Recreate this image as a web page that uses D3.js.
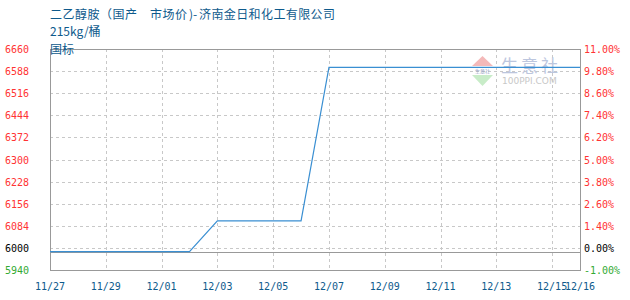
<!DOCTYPE html>
<html>
<head>
<meta charset="utf-8">
<script src="https://cdn.jsdelivr.net/npm/d3@7"></script>
<style>
  html, body { margin: 0; padding: 0; background: #fff; }
  svg { display: block; }
</style>
</head>
<body>
<svg id="chart" width="630" height="300"></svg>
<script>
// Daily price, 二乙醇胺 (国产 市场价), 济南金日和化工有限公司
const days = ["11/27","11/28","11/29","11/30","12/01","12/02","12/03","12/04","12/05","12/06",
              "12/07","12/08","12/09","12/10","12/11","12/12","12/13","12/14","12/15","12/16"];
const prices = [6000,6000,6000,6000,6000,6000,6100,6100,6100,6100,
                6600,6600,6600,6600,6600,6600,6600,6600,6600,6600];
const xTickDays = ["11/27","11/29","12/01","12/03","12/05","12/07","12/09","12/11","12/13","12/15","12/16"];
const yTickValues = [6660,6588,6516,6444,6372,6300,6228,6156,6084,6012,5940];
const yTickLabels = ["6660","6588","6516","6444","6372","6300","6228","6156","6084","6000","5940"];
const pctTickLabels = ["11.00%","9.80%","8.60%","7.40%","6.20%","5.00%","3.80%","2.60%","1.40%","0.00%","-1.00%"];
const basePrice = 6000;

(function draw() {
  const svg = d3.select("#chart");
  const plotL = 50, plotR = 580, plotT = 49, plotB = 270;

  const x = d3.scalePoint().domain(days).range([plotL, plotR]);
  const y = d3.scaleLinear().domain([5940, 6660]).range([plotB, plotT]);

  const labelColor = v => v > 6012 ? "#ff3333" : (v === 6012 ? "#000" : "#33aa33");

  // horizontal dashed grid
  svg.append("g").selectAll("line")
    .data(yTickValues.slice(1, -1))
    .join("line")
    .attr("x1", plotL).attr("x2", plotR)
    .attr("y1", d => Math.round(y(d)) + 0.5).attr("y2", d => Math.round(y(d)) + 0.5)
    .attr("stroke", "#c8c8c8").attr("stroke-dasharray", "3,3");

  // vertical dashed grid
  svg.append("g").selectAll("line")
    .data(xTickDays.slice(1, -1))
    .join("line")
    .attr("x1", d => Math.round(x(d)) + 0.5).attr("x2", d => Math.round(x(d)) + 0.5)
    .attr("y1", plotT).attr("y2", plotB)
    .attr("stroke", "#c8c8c8").attr("stroke-dasharray", "3,3");

  // watermark
  const wm = svg.append("g");
  wm.append("path").attr("d", "M472,66 L482.5,56 L493,66 Z").attr("fill", "#f4b9b9");
  wm.append("path").attr("d", "M472,75 L493,75 L482.5,86 Z").attr("fill", "#c8ecc8");
  wm.append("text").attr("x", 482.5).attr("y", 72.5).attr("text-anchor", "middle")
    .attr("font-size", 5).attr("fill", "#9aa6c4").attr("font-family", "Noto Sans CJK SC")
    .text("生意社");
  wm.append("text").attr("x", 501).attr("y", 72).attr("font-size", 17)
    .attr("letter-spacing", 3).attr("fill", "#bcc6de")
    .attr("font-family", "Noto Sans CJK SC").text("生意社");
  wm.append("text").attr("x", 502).attr("y", 83.5).attr("font-size", 9)
    .attr("fill", "#c8c8c8").attr("font-family", "DejaVu Sans").text("100PPI.COM");

  // zero line
  svg.append("line")
    .attr("x1", plotL).attr("x2", plotR)
    .attr("y1", Math.round(y(basePrice)) + 0.5).attr("y2", Math.round(y(basePrice)) + 0.5)
    .attr("stroke", "#999");

  // frame
  svg.append("rect")
    .attr("x", plotL + 0.5).attr("y", plotT + 0.5)
    .attr("width", plotR - plotL).attr("height", plotB - plotT)
    .attr("fill", "none").attr("stroke", "#999");

  // price line
  const line = d3.line().x(d => x(d.day)).y(d => y(d.price));
  svg.append("path")
    .datum(days.map((d, i) => ({ day: d, price: prices[i] })))
    .attr("d", line)
    .attr("fill", "none").attr("stroke", "#3a8fd2").attr("stroke-width", 1.2);

  // left axis labels
  svg.append("g").selectAll("text")
    .data(yTickValues)
    .join("text")
    .attr("x", 29).attr("y", d => y(d) + 4)
    .attr("text-anchor", "end")
    .attr("font-family", "DejaVu Sans Mono").attr("font-size", 10)
    .attr("fill", labelColor)
    .text((d, i) => yTickLabels[i]);

  // right axis labels
  svg.append("g").selectAll("text")
    .data(yTickValues)
    .join("text")
    .attr("x", 584).attr("y", d => y(d) + 4)
    .attr("font-family", "DejaVu Sans Mono").attr("font-size", 10)
    .attr("fill", labelColor)
    .text((d, i) => pctTickLabels[i]);

  // x axis labels
  svg.append("g").selectAll("text")
    .data(xTickDays)
    .join("text")
    .attr("x", d => x(d)).attr("y", 290)
    .attr("text-anchor", "middle")
    .attr("font-family", "DejaVu Sans Mono").attr("font-size", 10)
    .attr("fill", "#0e5a8c")
    .text(d => d);

  // title and notes
  const cjk = "'Noto Sans CJK SC', sans-serif";
  const title = svg.append("text").attr("y", 19)
    .attr("font-family", cjk).attr("font-size", 12).attr("fill", "#0e5a8c");
  title.append("tspan").attr("x", 50).attr("letter-spacing", 0.5).text("二乙醇胺（国产　市场价");
  title.append("tspan").attr("x", 189).text(")-");
  title.append("tspan").attr("x", 199).attr("letter-spacing", 0.4).text("济南金日和化工有限公司");
  svg.append("text").attr("x", 50).attr("y", 36)
    .attr("font-family", cjk).attr("font-size", 12).attr("fill", "#0e5a8c")
    .text("215kg/桶");
  svg.append("text").attr("x", 50).attr("y", 53.5)
    .attr("font-family", cjk).attr("font-size", 12).attr("fill", "#0e5a8c")
    .text("国标");
})();
</script>
</body>
</html>
